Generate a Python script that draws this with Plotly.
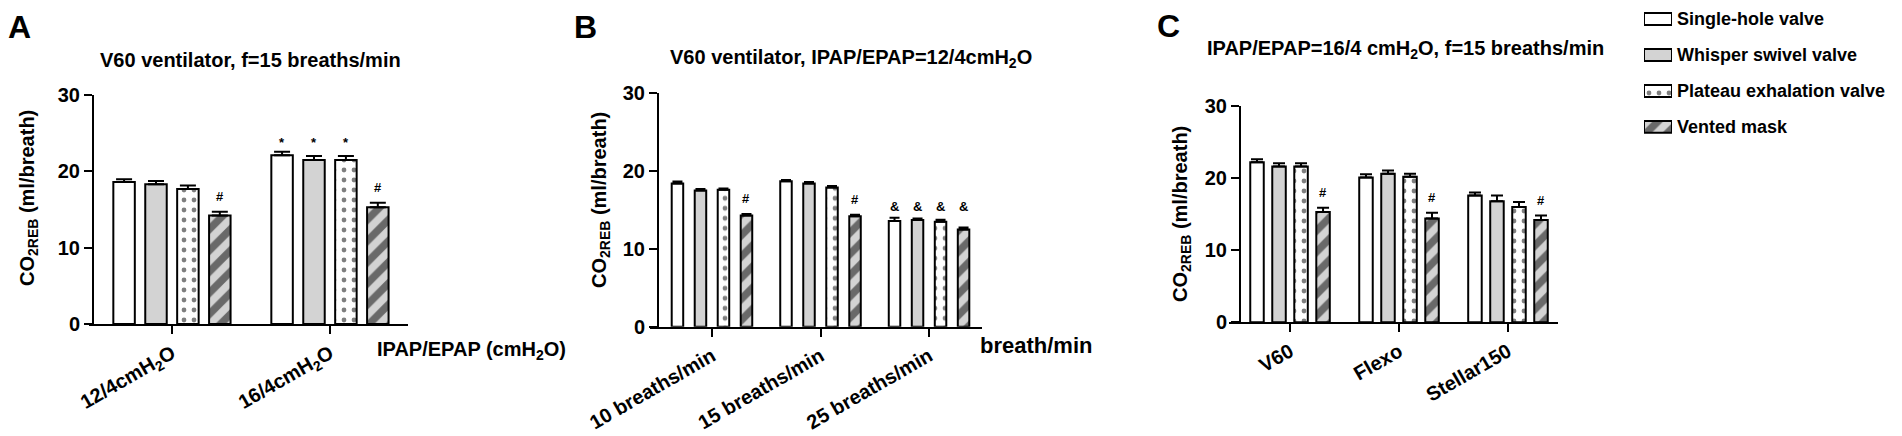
import plotly.graph_objects as go

# the page body keeps its default 8px margin, so the figure is drawn 8px in
PAGE_W, PAGE_H, BODY = 1902, 436, 8
W, H = PAGE_W - BODY, PAGE_H - BODY
FONT = "Liberation Sans, Arial, Helvetica, sans-serif"

SERIES = ["Single-hole valve", "Whisper swivel valve",
          "Plateau exhalation valve", "Vented mask"]

# panel A: V60, f=15 breaths/min
A_CATS = ["12/4cmH<sub>2</sub>O", "16/4cmH<sub>2</sub>O"]
A_MEAN = [[18.6, 22.1], [18.3, 21.5], [17.7, 21.5], [14.2, 15.3]]
A_ERR = [[0.35, 0.45], [0.45, 0.5], [0.45, 0.5], [0.5, 0.6]]
A_MARKS = [["", "*"], ["", "*"], ["", "*"], ["#", "#"]]

# panel B: V60, IPAP/EPAP=12/4
B_CATS = ["10 breaths/min", "15 breaths/min", "25 breaths/min"]
B_MEAN = [[18.4, 18.7, 13.6], [17.5, 18.4, 13.7], [17.6, 17.9, 13.5], [14.3, 14.2, 12.5]]
B_ERR = [[0.25, 0.15, 0.4], [0.2, 0.2, 0.2], [0.15, 0.2, 0.25], [0.2, 0.2, 0.25]]
B_MARKS = [["", "", "&"], ["", "", "&"], ["", "", "&"], ["#", "#", "&"]]

# panel C: IPAP/EPAP=16/4, f=15
C_CATS = ["V60", "Flexo", "Stellar150"]
C_MEAN = [[22.2, 20.1, 17.6], [21.6, 20.6, 16.8], [21.6, 20.2, 16.0], [15.3, 14.4, 14.2]]
C_ERR = [[0.4, 0.45, 0.4], [0.45, 0.45, 0.8], [0.45, 0.4, 0.7], [0.6, 0.8, 0.6]]
C_MARKS = [["", "", ""], ["", "", ""], ["", "", ""], ["#", "#", "#"]]

Y_TICKS = [0, 10, 20, 30]

FILL = ["white", "#d3d3d3", "white", "#d3d3d3"]
PATTERN = [
    dict(shape=""),
    dict(shape=""),
    dict(shape=".", fgcolor="black", bgcolor="white", size=10, solidity=0.18),
    dict(shape="/", fgcolor="black", bgcolor="#d3d3d3", size=15, solidity=0.5),
]
MARK_SHIFT = {"*": 9, "#": 15, "&": 11}


def px(x):
    return (x - BODY) / W


def py(y):
    return 1 - (y - BODY) / H


PANELS = [
    dict(letter="A", cats=A_CATS, mean=A_MEAN, err=A_ERR, marks=A_MARKS,
         xdom=(89, 408), yline=93, ytop=95, ybot=324, xrange=(-0.525, 1.494),
         slot=0.202, bar_w=0.136, cap=8,
         title="V60 ventilator, f=15 breaths/min", title_xy=(250, 60),
         letter_xy=(19, 27), ytitle_xy=(28, 198),
         xtitle="IPAP/EPAP (cmH<sub>2</sub>O)", xtitle_xy=(375, 350), xtitle_size=20),
    dict(letter="B", cats=B_CATS, mean=B_MEAN, err=B_ERR, marks=B_MARKS,
         xdom=(650, 982), yline=658, ytop=93.3, ybot=326.7, xrange=(-0.571, 2.488),
         slot=0.212, bar_w=0.106, cap=5,
         title="V60 ventilator, IPAP/EPAP=12/4cmH<sub>2</sub>O", title_xy=(851, 59),
         letter_xy=(585, 27), ytitle_xy=(600, 200),
         xtitle="breath/min", xtitle_xy=(978, 345), xtitle_size=22),
    dict(letter="C", cats=C_CATS, mean=C_MEAN, err=C_ERR, marks=C_MARKS,
         xdom=(1229, 1558), yline=1240, ytop=106, ybot=322.3, xrange=(-0.56, 2.459),
         slot=0.202, bar_w=0.124, cap=6,
         title="IPAP/EPAP=16/4 cmH<sub>2</sub>O, f=15 breaths/min", title_xy=(1405, 49),
         letter_xy=(1168, 26), ytitle_xy=(1181, 214),
         xtitle="", xtitle_xy=(0, 0), xtitle_size=20),
]

fig = go.Figure()
annotations = []
layout = {}

for n, p in enumerate(PANELS, start=1):
    xa = "x" if n == 1 else f"x{n}"
    ya = "y" if n == 1 else f"y{n}"
    for k, name in enumerate(SERIES):
        fig.add_trace(go.Bar(
            x=p["cats"], y=p["mean"][k], name=name,
            xaxis=xa, yaxis=ya, showlegend=False,
            width=p["bar_w"], offset=(k - 1.5) * p["slot"] - p["bar_w"] / 2,
            marker=dict(color=FILL[k], line=dict(color="black", width=2),
                        pattern=PATTERN[k]),
            error_y=dict(type="data", symmetric=False, array=p["err"][k],
                         arrayminus=[0] * len(p["cats"]),
                         color="black", thickness=2, width=p["cap"]),
        ))

    layout[f"xaxis{'' if n == 1 else n}"] = dict(
        domain=[px(p["xdom"][0]), px(p["xdom"][1])], anchor=ya,
        type="category", range=list(p["xrange"]), automargin=False,
        showline=True, linecolor="black", linewidth=2,
        ticks="outside", ticklen=8, tickwidth=2, tickcolor="black",
        tickangle=-30, showgrid=False, zeroline=False,
        tickfont=dict(family=FONT, size=20, color="black", weight="bold"),
    )
    layout[f"yaxis{'' if n == 1 else n}"] = dict(
        domain=[py(p["ybot"]), py(p["ytop"])], anchor="free",
        position=px(p["yline"]), range=[0, 30], tickvals=Y_TICKS, automargin=False,
        showline=True, linecolor="black", linewidth=2,
        ticks="outside", ticklen=8, tickwidth=2, tickcolor="black",
        showgrid=False, zeroline=False,
        tickfont=dict(family=FONT, size=20, color="black", weight="bold"),
    )

    # significance marks: bars sharing a symbol in a group share its height
    for i in range(len(p["cats"])):
        for sym in set(p["marks"][k][i] for k in range(4)) - {""}:
            marked = [k for k in range(4) if p["marks"][k][i] == sym]
            level = max(p["mean"][k][i] + p["err"][k][i] for k in marked)
            for k in marked:
                annotations.append(dict(
                    x=i + (k - 1.5) * p["slot"], y=level, xref=xa, yref=ya,
                    text=sym, showarrow=False, yanchor="middle",
                    yshift=MARK_SHIFT[sym],
                    font=dict(family=FONT, size=13, color="black", weight="bold"),
                ))

    annotations.append(dict(
        x=px(p["letter_xy"][0]), y=py(p["letter_xy"][1]), xref="paper", yref="paper",
        text=p["letter"], showarrow=False, xanchor="center", yanchor="middle",
        font=dict(family=FONT, size=32, color="black", weight="bold"),
    ))
    annotations.append(dict(
        x=px(p["title_xy"][0]), y=py(p["title_xy"][1]), xref="paper", yref="paper",
        text=p["title"], showarrow=False, xanchor="center", yanchor="middle",
        font=dict(family=FONT, size=20, color="black", weight="bold"),
    ))
    annotations.append(dict(
        x=px(p["ytitle_xy"][0]), y=py(p["ytitle_xy"][1]), xref="paper", yref="paper",
        text="CO<sub>2REB</sub> (ml/breath)", textangle=-90, showarrow=False,
        xanchor="center", yanchor="middle",
        font=dict(family=FONT, size=20, color="black", weight="bold"),
    ))
    if p["xtitle"]:
        annotations.append(dict(
            x=px(p["xtitle_xy"][0]), y=py(p["xtitle_xy"][1]), xref="paper", yref="paper",
            text=p["xtitle"], showarrow=False, xanchor="left", yanchor="middle",
            font=dict(family=FONT, size=p["xtitle_size"], color="black", weight="bold"),
        ))

# legend drawn as a small subplot of swatches
for k, name in enumerate(SERIES):
    fig.add_trace(go.Bar(
        y=[name], x=[1], base=0, orientation="h", width=0.33,
        xaxis="x4", yaxis="y4", showlegend=False, hoverinfo="skip",
        marker=dict(color=FILL[k], line=dict(color="black", width=2),
                    pattern=PATTERN[k]),
    ))

layout["xaxis4"] = dict(domain=[px(1644), px(1672)], anchor="y4", range=[0, 1],
                        visible=False, automargin=False)
# rows at y = 19 .. 127 px; domain starts at the top of the figure (y = 8)
layout["yaxis4"] = dict(domain=[py(146), 1], anchor="x4", side="right",
                        type="category", categoryarray=SERIES, categoryorder="array",
                        range=[3.53, -0.305], showline=False, showgrid=False,
                        zeroline=False, ticks="", ticklabelstandoff=4, automargin=False,
                        tickfont=dict(family=FONT, size=18, color="black", weight="bold"))

fig.update_layout(
    width=W, height=H,
    margin=dict(l=0, r=0, t=0, b=0, autoexpand=False),
    paper_bgcolor="white", plot_bgcolor="white",
    barmode="group", showlegend=False,
    font=dict(family=FONT, color="black"),
    annotations=annotations,
    **layout,
)

fig.write_html("out.html")
